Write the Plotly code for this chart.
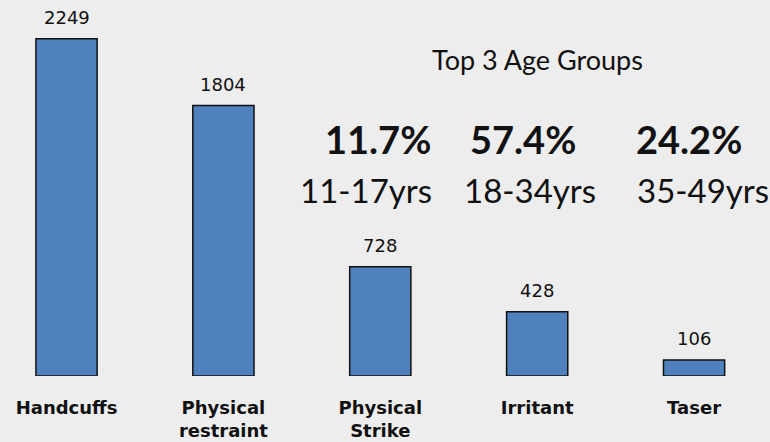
import plotly.graph_objects as go

categories = ["Handcuffs", "Physical<br>restraint", "Physical<br>Strike", "Irritant", "Taser"]
values = [2249, 1804, 728, 428, 106]
value_labels = ["2249", "1804", "728", "428", "106"]

age_title = "Top 3 Age Groups"
age_pcts = ["11.7%", "57.4%", "24.2%"]
age_groups = ["11-17yrs", "18-34yrs", "35-49yrs"]

BG = "#EDEDED"
W, H = 770, 442
PLOT_B = 66
PLOT_H = H - PLOT_B

fig = go.Figure()
fig.add_trace(go.Bar(
    x=list(range(len(categories))), y=values,
    width=0.39,
    marker=dict(color="#4F81BD", line=dict(color="#111111", width=1.5)),
    hoverinfo="skip",
))

# value labels above bars
for i, (v, t) in enumerate(zip(values, value_labels)):
    fig.add_annotation(x=i, y=v, text=t, showarrow=False, yanchor="bottom",
                       yshift=9, font=dict(family="DejaVu Sans", size=18, color="#111111"))

def px(xp):
    return xp / W

def py(yp):
    return (PLOT_H - yp) / PLOT_H

fig.add_annotation(x=px(537), y=py(60), xref="paper", yref="paper", text=age_title,
                   showarrow=False, xanchor="center", yanchor="middle",
                   font=dict(family="Lato", size=27, color="#111111"))

pct_x = [378, 523, 689]
grp_x = [366, 530, 703]
for p, xp in zip(age_pcts, pct_x):
    fig.add_annotation(x=px(xp), y=py(139), xref="paper", yref="paper", text="<b>%s</b>" % p,
                       showarrow=False, xanchor="center", yanchor="middle",
                       font=dict(family="Lato", size=38, color="#111111"))
for g, xp in zip(age_groups, grp_x):
    fig.add_annotation(x=px(xp), y=py(190), xref="paper", yref="paper", text=g,
                       showarrow=False, xanchor="center", yanchor="middle",
                       font=dict(family="Lato", size=33, color="#111111"))

fig.update_layout(
    width=W, height=H,
    margin=dict(l=0, r=0, t=0, b=PLOT_B),
    paper_bgcolor=BG, plot_bgcolor=BG,
    showlegend=False,
    xaxis=dict(range=[-0.424, 4.484], tickmode="array",
               tickvals=list(range(len(categories))), ticktext=categories,
               showgrid=False, zeroline=False, showline=False,
               ticks="", ticklabelstandoff=19,
               tickfont=dict(family="DejaVu Sans", size=18, color="#111111", weight="bold")),
    yaxis=dict(range=[0, 2508], visible=False, showgrid=False, zeroline=False),
)

fig.write_html("out.html", config={"displayModeBar": False},
               post_script="document.body.style.margin='0px';")
